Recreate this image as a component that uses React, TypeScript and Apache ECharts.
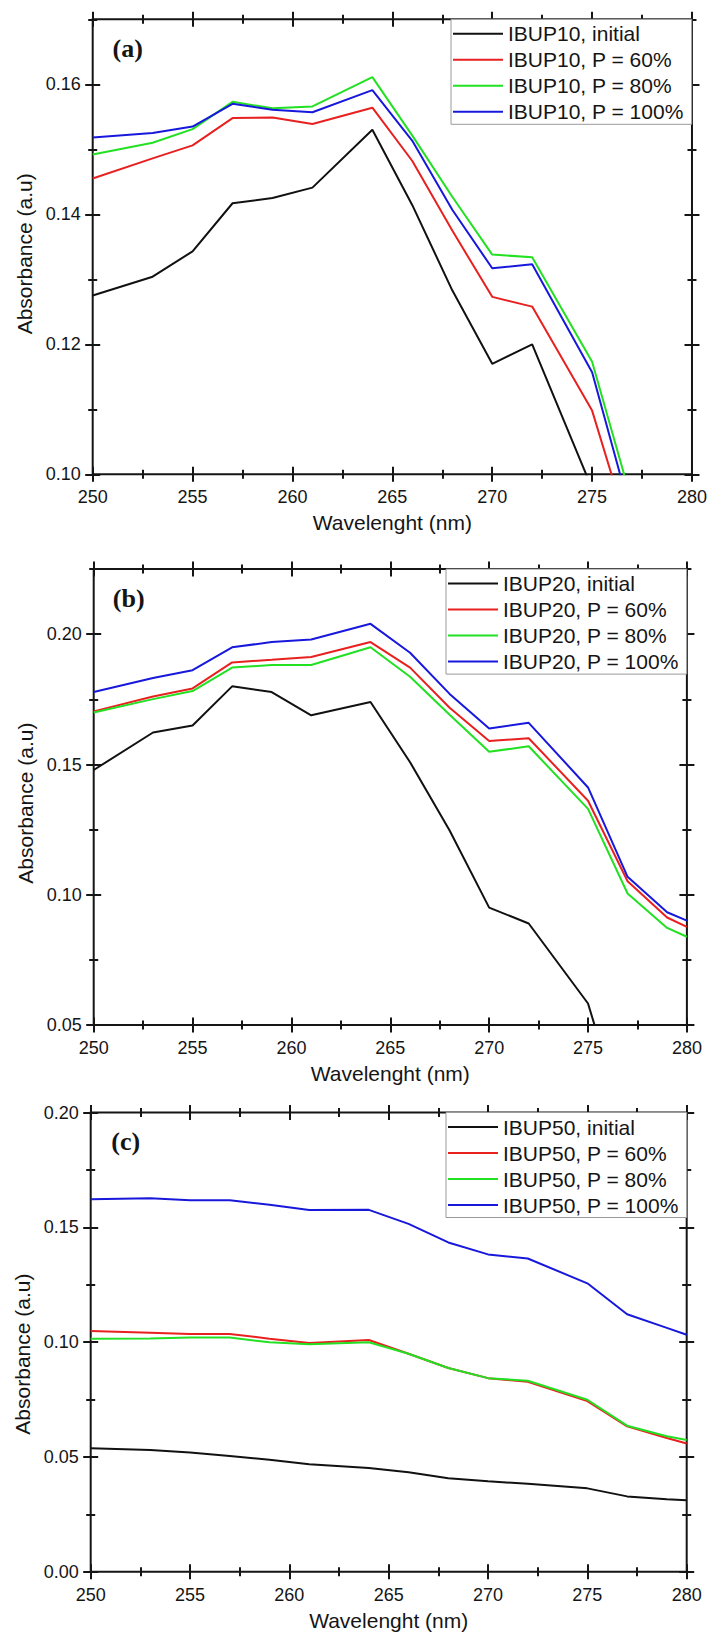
import React, { useEffect, useRef } from "react";
import * as echarts from "echarts";

// ---------- data ----------
const wavelengths = [250, 253, 255, 257, 259, 261, 264, 266, 268, 270, 272, 275, 277, 279, 280];

const namesA = ["IBUP10, initial", "IBUP10, P = 60%", "IBUP10, P = 80%", "IBUP10, P = 100%"];
const ibup10Initial = [0.1275, 0.1304, 0.1343, 0.1417, 0.1425, 0.1441, 0.153, 0.1414, 0.1283, 0.117, 0.12, 0.0978];
const ibup10P60 = [0.1455, 0.1486, 0.1506, 0.1548, 0.1549, 0.1539, 0.1564, 0.1482, 0.1375, 0.1273, 0.1258, 0.1098, 0.0896];
const ibup10P80 = [0.1492, 0.151, 0.1531, 0.1573, 0.1563, 0.1566, 0.1611, 0.1521, 0.1427, 0.1338, 0.1334, 0.1173, 0.0957];
const ibup10P100 = [0.1518, 0.1525, 0.1535, 0.157, 0.1561, 0.1557, 0.1591, 0.1513, 0.1407, 0.1317, 0.1323, 0.1157, 0.0933];

const namesB = ["IBUP20, initial", "IBUP20, P = 60%", "IBUP20, P = 80%", "IBUP20, P = 100%"];
const ibup20Initial = [0.1479, 0.1623, 0.165, 0.18, 0.1778, 0.1689, 0.174, 0.1509, 0.1247, 0.0951, 0.089, 0.0583, 0.008];
const ibup20P60 = [0.1704, 0.1761, 0.1792, 0.1892, 0.1902, 0.1913, 0.197, 0.1872, 0.1718, 0.159, 0.1601, 0.1361, 0.1052, 0.0913, 0.0877];
const ibup20P80 = [0.17, 0.1751, 0.1782, 0.1872, 0.1882, 0.1882, 0.195, 0.1837, 0.1691, 0.1549, 0.157, 0.133, 0.1005, 0.0873, 0.0839];
const ibup20P100 = [0.1778, 0.1832, 0.1862, 0.195, 0.197, 0.198, 0.204, 0.1929, 0.1771, 0.1638, 0.166, 0.1412, 0.1069, 0.0933, 0.0901];

const namesC = ["IBUP50, initial", "IBUP50, P = 60%", "IBUP50, P = 80%", "IBUP50, P = 100%"];
const ibup50Initial = [0.0538, 0.053, 0.0519, 0.0504, 0.0488, 0.0468, 0.0452, 0.0433, 0.0407, 0.0394, 0.0383, 0.0363, 0.0328, 0.0316, 0.0311];
const ibup50P60 = [0.1048, 0.1041, 0.1035, 0.1035, 0.1015, 0.0996, 0.1009, 0.0949, 0.0887, 0.0843, 0.0827, 0.0743, 0.0633, 0.0582, 0.0558];
const ibup50P80 = [0.1015, 0.1016, 0.102, 0.102, 0.0999, 0.0991, 0.0999, 0.0949, 0.0887, 0.0843, 0.0832, 0.0749, 0.0636, 0.059, 0.0574];
const ibup50P100 = [0.1622, 0.1626, 0.1618, 0.1618, 0.1598, 0.1575, 0.1576, 0.1515, 0.1434, 0.1382, 0.1364, 0.1256, 0.1121, 0.1062, 0.1032];

// tick labels / tick positions
const xMajorTicks = [250, 255, 260, 265, 270, 275, 280];
const xMinorTicks = [252.5, 257.5, 262.5, 267.5, 272.5, 277.5];
const yMajorA = [0.1, 0.12, 0.14, 0.16];
const yMinorA = [0.11, 0.13, 0.15, 0.17];
const yMajorB = [0.05, 0.1, 0.15, 0.2];
const yMinorB = [0.075, 0.125, 0.175, 0.225];
const yMajorC = [0, 0.05, 0.1, 0.15, 0.2];
const yMinorC = [0.025, 0.075, 0.125, 0.175];

const panelLabels = ["(a)", "(b)", "(c)"];
const xTitle = "Wavelenght (nm)";
const yTitle = "Absorbance (a.u)";

// ---------- styles ----------
const SANS = '"Liberation Sans", Arial, sans-serif';
const INK = "#151515";
const COLORS = ["#111111", "#e82020", "#22e022", "#1818dc"];

type Panel = {
  left: number; top: number; right: number; bottom: number;
  yMin: number; yMax: number; yMajor: number[]; yMinor: number[];
  names: string[]; values: number[][]; legendLeft: number; label: string; yTitleShift: number;
};

const panels: Panel[] = [
  { left: 92.7, top: 19.3, right: 693, bottom: 474.3, yMin: 0.1, yMax: 0.17, yMajor: yMajorA, yMinor: yMinorA,
    names: namesA, values: [ibup10Initial, ibup10P60, ibup10P80, ibup10P100], legendLeft: 451, label: panelLabels[0], yTitleShift: 7 },
  { left: 93.7, top: 569.1, right: 686.9, bottom: 1025.1, yMin: 0.05, yMax: 0.225, yMajor: yMajorB, yMinor: yMinorB,
    names: namesB, values: [ibup20Initial, ibup20P60, ibup20P80, ibup20P100], legendLeft: 446, label: panelLabels[1], yTitleShift: 6 },
  { left: 90.7, top: 1112.5, right: 686.7, bottom: 1571.7, yMin: 0, yMax: 0.2, yMajor: yMajorC, yMinor: yMinorC,
    names: namesC, values: [ibup50Initial, ibup50P60, ibup50P80, ibup50P100], legendLeft: 446, label: panelLabels[2], yTitleShift: 12 },
];

function buildOption() {
  const grid: any[] = [];
  const xAxis: any[] = [];
  const yAxis: any[] = [];
  const series: any[] = [];
  const legend: any[] = [];
  const graphic: any[] = [];

  panels.forEach((p, gi) => {
    grid.push({
      left: p.left, top: p.top, width: p.right - p.left, height: p.bottom - p.top,
      show: true, borderColor: INK, borderWidth: 2, backgroundColor: "transparent",
    });

    const tickX = (pos: string, vals: number[], len: number) => ({
      type: "value", gridIndex: gi, position: pos, min: 250, max: 280, offset: -len / 2,
      axisLine: { show: false, onZero: false },
      axisTick: { show: true, inside: false, length: len, customValues: vals, lineStyle: { color: INK, width: 2 } },
      axisLabel: { show: false }, splitLine: { show: false },
    });
    const tickY = (pos: string, vals: number[], len: number) => ({
      type: "value", gridIndex: gi, position: pos, min: p.yMin, max: p.yMax, offset: -len / 2,
      axisLine: { show: false, onZero: false },
      axisTick: { show: true, inside: false, length: len, customValues: vals, lineStyle: { color: INK, width: 2 } },
      axisLabel: { show: false }, splitLine: { show: false },
    });

    const xMainIndex = xAxis.length;
    xAxis.push({
      type: "value", gridIndex: gi, position: "bottom", min: 250, max: 280,
      axisLine: { show: false, onZero: false }, axisTick: { show: false }, splitLine: { show: false },
      axisLabel: { customValues: xMajorTicks, fontSize: 18, color: INK, margin: 14, fontFamily: SANS },
      name: xTitle, nameLocation: "middle", nameGap: 38,
      nameTextStyle: { fontSize: 21, color: INK, fontFamily: SANS },
    });
    xAxis.push(tickX("bottom", xMajorTicks, 15));
    xAxis.push(tickX("bottom", xMinorTicks, 9));
    xAxis.push(tickX("top", xMajorTicks, 15));
    xAxis.push(tickX("top", xMinorTicks, 9));

    const yMainIndex = yAxis.length;
    yAxis.push({
      type: "value", gridIndex: gi, position: "left", min: p.yMin, max: p.yMax,
      axisLine: { show: false, onZero: false }, axisTick: { show: false }, splitLine: { show: false },
      axisLabel: {
        customValues: p.yMajor, fontSize: 18, color: INK, margin: 12, fontFamily: SANS,
        formatter: (v: number) => v.toFixed(2),
      },
      name: yTitle, nameLocation: "middle", nameGap: 55, nameRotate: 90,
      nameTextStyle: { fontSize: 21, color: INK, fontFamily: SANS, padding: [0, p.yTitleShift * 2, 0, 0] },
    });
    yAxis.push(tickY("left", p.yMajor, 15));
    yAxis.push(tickY("left", p.yMinor, 9));
    yAxis.push(tickY("right", p.yMajor, 15));
    yAxis.push(tickY("right", p.yMinor, 9));

    p.values.forEach((vals, si) => {
      series.push({
        type: "line", name: p.names[si], xAxisIndex: xMainIndex, yAxisIndex: yMainIndex,
        data: vals.map((v, k) => [wavelengths[k], v]),
        symbol: "none", showSymbol: false, clip: true,
        lineStyle: { color: COLORS[si], width: 2 }, itemStyle: { color: COLORS[si] },
      });
    });

    legend.push({
      data: p.names.map((n) => ({ name: n, icon: "rect" })),
      orient: "vertical", left: p.legendLeft, top: p.top,
      padding: [4, 8, 2, 2], itemWidth: 50, itemHeight: 2, itemGap: 5,
      borderColor: "#9a9a9a", borderWidth: 1, backgroundColor: "#fff",
      textStyle: { fontSize: 21, lineHeight: 21, color: INK, fontFamily: SANS },
      selectedMode: false,
    });

    graphic.push({
      type: "text", x: p.left + 35, y: p.top + 29,
      style: {
        text: p.label, fill: INK, font: 'bold 26px "Liberation Serif", "Times New Roman", serif',
        align: "center", verticalAlign: "middle",
      },
    });
  });

  return { animation: false, backgroundColor: "#ffffff", grid, xAxis, yAxis, series, legend, graphic };
}

export default function App() {
  const ref = useRef<HTMLDivElement>(null);
  useEffect(() => {
    if (!ref.current) return;
    const chart = echarts.init(ref.current, undefined, { renderer: "svg" });
    chart.setOption(buildOption() as any);
    return () => chart.dispose();
  }, []);
  return (
    <div
      ref={ref}
      style={{ position: "absolute", left: 0, top: 0, width: 710, height: 1633, background: "#fff" }}
    />
  );
}
